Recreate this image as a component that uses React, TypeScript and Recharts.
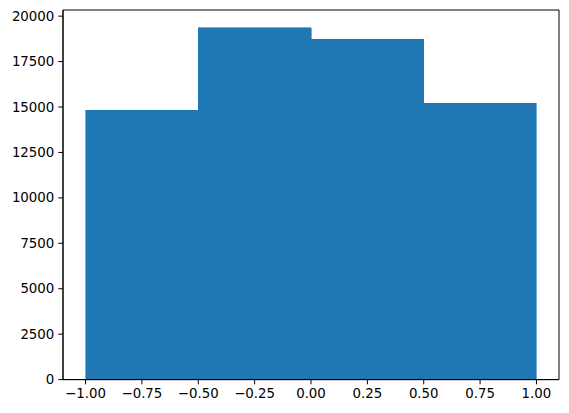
import * as React from 'react'
import {
  ComposedChart,
  ReferenceArea,
  XAxis,
  YAxis,
} from 'recharts'

// histogram: 4 bins between -1 and 1
const binEdges = [-1, -0.5, 0, 0.5, 1]
const binCounts = [14810, 19370, 18720, 15200]

const xTicks = [-1, -0.75, -0.5, -0.25, 0, 0.25, 0.5, 0.75, 1]
const yTicks = [0, 2500, 5000, 7500, 10000, 12500, 15000, 17500, 20000]

const barColor = '#1f77b4'
const font = 'DejaVu Sans'

const fmtX = (v: number) => {
  const s = Math.abs(v).toFixed(2)
  return v < 0 ? '\u2212' + s : s
}

const bins = binCounts.map((count, i) => ({
  x0: binEdges[i],
  x1: binEdges[i + 1],
  mid: (binEdges[i] + binEdges[i + 1]) / 2,
  count,
}))

const XTick = (props: any) => {
  const { x, y, payload } = props
  return (
    <text
      x={x}
      y={y + 4}
      textAnchor="middle"
      dominantBaseline="hanging"
      fontFamily={font}
      fontSize={13.33}
      fill="#000"
    >
      {fmtX(payload.value)}
    </text>
  )
}

const YTick = (props: any) => {
  const { x, y, payload } = props
  return (
    <text
      x={x - 4}
      y={y}
      textAnchor="end"
      dominantBaseline="central"
      fontFamily={font}
      fontSize={13.33}
      fill="#000"
    >
      {String(payload.value)}
    </text>
  )
}

export default function App() {
  const yMax = Math.max(...binCounts) * 1.05
  return (
    <div style={{ position: 'absolute', left: 0, top: 0, background: '#fff' }}>
      <ComposedChart
        width={569}
        height={413}
        data={bins}
        margin={{ top: 10, right: 10, left: 0, bottom: 0 }}
      >
        <XAxis
          type="number"
          dataKey="mid"
          domain={[-1.1, 1.1]}
          ticks={xTicks}
          allowDataOverflow
          height={33.4}
          tickSize={4.7}
          tickMargin={0}
          tick={<XTick />}
          tickLine={{ stroke: '#000' }}
          axisLine={{ stroke: '#000' }}
        />
        <YAxis
          type="number"
          domain={[0, yMax]}
          ticks={yTicks}
          allowDataOverflow
          width={63}
          tickSize={4.7}
          tickMargin={0}
          tick={<YTick />}
          tickLine={{ stroke: '#000' }}
          axisLine={{ stroke: '#000' }}
        />
        {bins.map((b, i) => (
          <ReferenceArea
            key={i}
            x1={b.x0}
            x2={b.x1}
            y1={0}
            y2={b.count}
            fill={barColor}
            fillOpacity={1}
            stroke={barColor}
            strokeWidth={0.6}
            shapeRendering="crispEdges"
          />
        ))}
        {/* frame around the plot area */}
        <ReferenceArea
          x1={-1.1}
          x2={1.1}
          y1={0}
          y2={yMax}
          fill="none"
          stroke="#000"
          strokeWidth={1}
          ifOverflow="visible"
        />
      </ComposedChart>
    </div>
  )
}
